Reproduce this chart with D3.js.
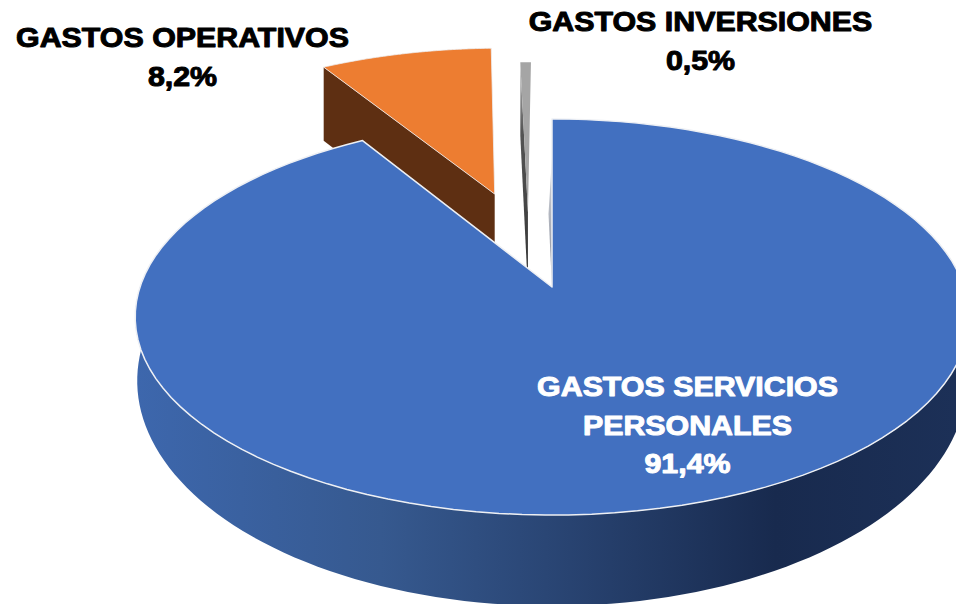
<!DOCTYPE html>
<html>
<head>
<meta charset="utf-8">
<script src="https://cdn.jsdelivr.net/npm/d3@7"></script>
<style>
  html, body { margin: 0; padding: 0; background: #fff; }
  svg { display: block; }
</style>
</head>
<body>
<div id="chart"></div>
<script>
const categories = ["GASTOS SERVICIOS PERSONALES", "GASTOS OPERATIVOS", "GASTOS INVERSIONES"];
const shares = [91.4, 8.2, 0.5];
const shareLabels = ["91,4%", "8,2%", "0,5%"];

const width = 956, height = 604;

// top face of the disc, unit circle -> screen with a bit of perspective
const topRim = {cx: 552, cy: 287, a: 412, b: 193.5, k: 0.1515};
// bottom rim of the big slice, fitted separately against the picture
const lowRim = {cx: 552, cy: 346.7, a: 410, b: 220, k: 0.1515};
// bottom of the pulled out slices
const sideRim = {cx: 552, cy: 368, a: 412, b: 200, k: 0.1515};

function project(p, u, v) {
  const w = 1 + p.k * v;
  return [p.cx + p.a * u / w, p.cy - p.b * v / w];
}

// exploded offsets of each slice, in disc units
const explode = [[0, 0], [-0.15, 0.518], [-0.062, 0.41]];

const pie = d3.pie().sort(null).value(d => d);
const slices = pie(shares);

function rimPoint(p, angle, off) {
  return project(p, Math.sin(angle) + off[0], Math.cos(angle) + off[1]);
}

function rim(p, a0, a1, off) {
  return d3.range(0, 121).map(i => rimPoint(p, a0 + (a1 - a0) * i / 120, off));
}

const line = d3.line();
const closed = pts => line(pts) + "Z";

const svg = d3.select("#chart").append("svg")
    .attr("width", width)
    .attr("height", height);

svg.append("rect")
    .attr("width", width)
    .attr("height", height)
    .attr("fill", "#ffffff");

const defs = svg.append("defs");
const wallGrad = defs.append("linearGradient")
    .attr("id", "wallGrad")
    .attr("gradientUnits", "userSpaceOnUse")
    .attr("x1", 135).attr("x2", 956).attr("y1", 0).attr("y2", 0);
[[0, "#3d67ad"], [0.3, "#36598f"], [0.5, "#2a4675"], [0.78, "#182a4e"], [1, "#1c3057"]]
  .forEach(s => wallGrad.append("stop").attr("offset", s[0]).attr("stop-color", s[1]));

const grayGrad = defs.append("linearGradient")
    .attr("id", "grayGrad")
    .attr("x1", 0).attr("x2", 0).attr("y1", 0).attr("y2", 1);
[[0, "#c4c4c4"], [0.3, "#555555"], [1, "#333333"]]
  .forEach(s => grayGrad.append("stop").attr("offset", s[0]).attr("stop-color", s[1]));

const sliverGrad = defs.append("linearGradient")
    .attr("id", "sliverGrad")
    .attr("x1", 0).attr("x2", 0).attr("y1", 0).attr("y2", 1);
[[0, "#d5d8de"], [1, "#858b99"]]
  .forEach(s => sliverGrad.append("stop").attr("offset", s[0]).attr("stop-color", s[1]));

// blue outer wall
const deg = Math.PI / 180;
svg.append("path")
    .attr("d", closed(rim(topRim, 75 * deg, 285 * deg, [0, 0]).concat(rim(lowRim, 285 * deg, 75 * deg, [0, 0]))))
    .attr("fill", "url(#wallGrad)");

// thin side of the blue slice at its start
const blueApex = project(topRim, 0, 0);
svg.append("path")
    .attr("d", closed([blueApex, project(topRim, 0, 0.75), project(topRim, -0.009, 0.4)]))
    .attr("fill", "url(#sliverGrad)");

// side walls go first, the big slice then covers what sits behind it
const colors = ["#4270c0", "#ed7d31", "#a5a5a5"];
const wallColors = [null, "#5e2f12", "url(#grayGrad)"];

[1, 2].forEach(i => {
  const s = slices[i], off = explode[i];
  svg.append("path")
      .attr("d", closed([
        project(topRim, off[0], off[1]),
        rimPoint(topRim, s.startAngle, off),
        rimPoint(sideRim, s.startAngle, off),
        project(sideRim, off[0], off[1])
      ]))
      .attr("fill", wallColors[i]);
});

[1, 2, 0].forEach(i => {
  const s = slices[i], off = explode[i];
  svg.append("path")
      .attr("d", closed([project(topRim, off[0], off[1])].concat(rim(topRim, s.startAngle, s.endAngle, off))))
      .attr("fill", colors[i])
      .attr("stroke", i == 2 ? "none" : "#eef0f4")
      .attr("stroke-width", i == 0 ? 1.5 : 0.8)
      .attr("stroke-linejoin", "round");
});

// labels
const labels = [
  {lines: ["GASTOS SERVICIOS", "PERSONALES", shareLabels[0]], x: 687.5, y: 396.5, fill: "#ffffff"},
  {lines: [categories[1], shareLabels[1]], x: 182.5, y: 47.5, fill: "#000000"},
  {lines: [categories[2], shareLabels[2]], x: 700.5, y: 31.5, fill: "#000000"}
];

labels.forEach(l => {
  svg.append("text")
      .attr("transform", `translate(${l.x},0) scale(1.125,1)`)
      .attr("text-anchor", "middle")
      .attr("font-family", "'Liberation Sans', Arial, sans-serif")
      .attr("font-weight", "bold")
      .attr("font-size", 27)
      .attr("fill", l.fill)
      .attr("stroke", l.fill)
      .attr("stroke-width", 1)
      .attr("stroke-linejoin", "round")
      .selectAll("tspan")
      .data(l.lines)
      .join("tspan")
      .attr("x", 0)
      .attr("y", (d, i) => l.y + i * 38.3)
      .text(d => d);
});
</script>
</body>
</html>
